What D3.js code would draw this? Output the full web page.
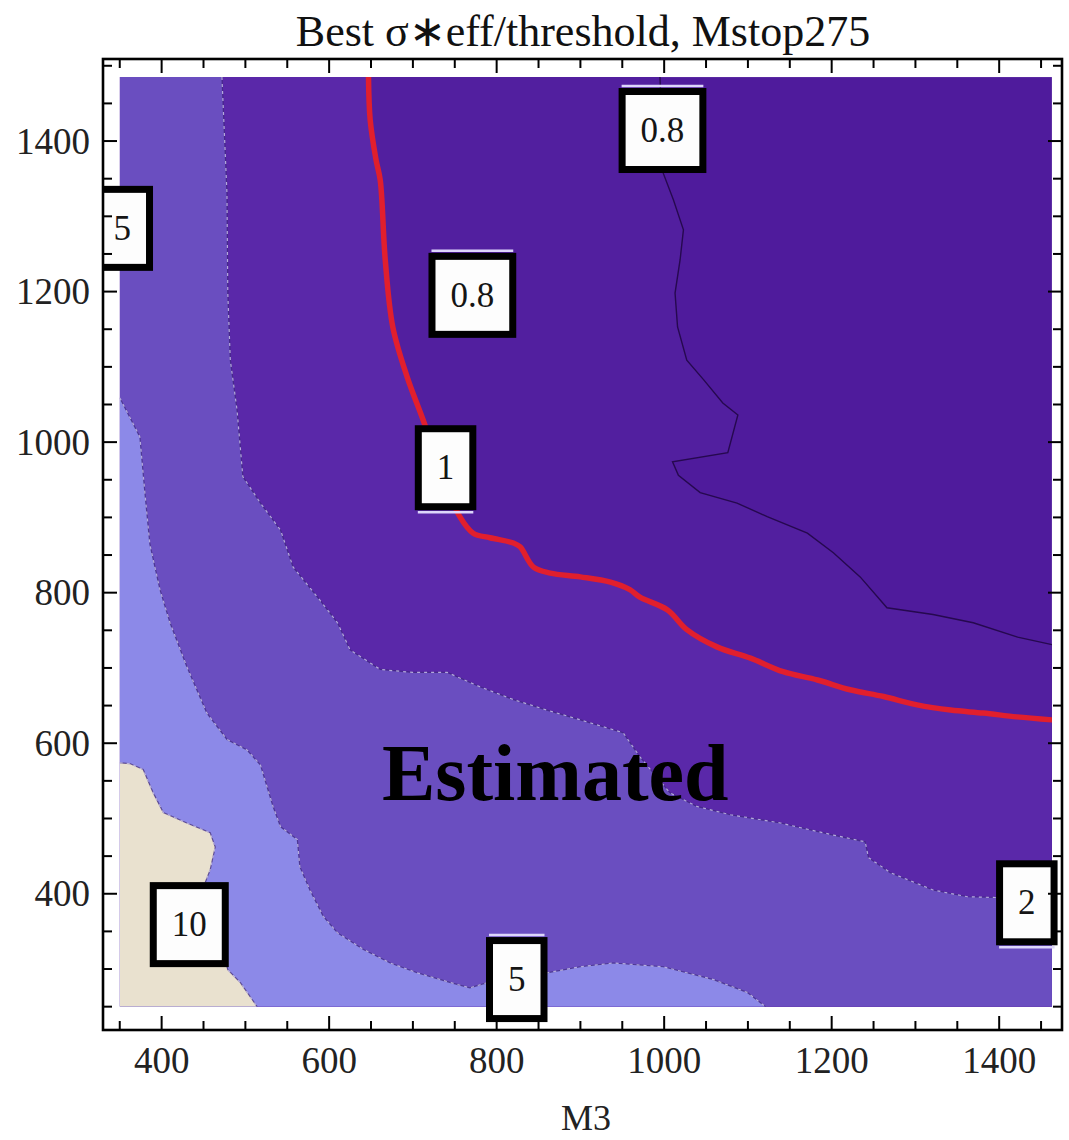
<!DOCTYPE html>
<html>
<head>
<meta charset="utf-8">
<script src="https://cdn.jsdelivr.net/npm/d3@7"></script>
<style>
  html, body { margin: 0; padding: 0; background: #fff; }
  svg { display: block; }
</style>
</head>
<body>
<svg id="chart" width="1069" height="1140"></svg>
<script>
// ---------------- DATA ----------------
const titleText = "Best \u03C3\u2217eff/threshold, Mstop275";
const xLabel = "M3";
const xTickValues = [400, 600, 800, 1000, 1200, 1400];
const yTickValues = [400, 600, 800, 1000, 1200, 1400];
const xDataRange = [350, 1463];
const yDataRange = [250, 1485];
const xFrameRange = [330, 1475];
const yFrameRange = [219, 1509];

const contourLevels = [0.8, 1, 2, 5, 10];
// contour lines, [M3, y] points, each running from one edge of the data region to another
const contour08 = [[995,1485],[999,1357],[1011,1322],[1023,1282],[1019,1242],[1013,1198],[1016,1153],[1027,1109],[1047,1083],[1070,1052],[1088,1036],[1076,986],[1010,974],[1017,956],[1043,933],[1087,919],[1123,901],[1171,879],[1202,853],[1234,821],[1266,780],[1321,771],[1369,760],[1422,741],[1463,731]];
const contour1 = [[647,1485],[649,1428],[656,1375],[661,1348],[667,1242],[676,1153],[693,1087],[712,1030],[727,983],[742,937],[756,901],[772,879],[792,873],[820,866],[828,861],[844,834],[864,826],[900,821],[936,814],[959,804],[971,794],[1004,777],[1027,751],[1063,728],[1103,713],[1142,695],[1183,684],[1222,671],[1262,662],[1302,651],[1342,644],[1381,640],[1421,635],[1463,631]];
const contour2 = [[472,1485],[478,1331],[479,1198],[482,1109],[490,1043],[497,954],[518,919],[542,883],[557,834],[589,790],[610,760],[625,724],[661,698],[700,694],[741,694],[780,675],[820,658],[860,644],[900,631],[951,614],[971,582],[1007,534],[1039,516],[1079,505],[1139,494],[1162,488],[1202,478],[1240,469],[1244,448],[1270,428],[1321,405],[1362,396],[1398,395],[1463,392]];
const contour5 = [[350,1059],[374,1007],[380,933],[386,864],[398,804],[410,760],[430,702],[454,640],[478,605],[502,591],[518,571],[533,516],[542,489],[562,472],[565,436],[577,405],[593,370],[610,348],[641,326],[673,308],[705,295],[745,282],[768,275],[792,283],[828,291],[860,295],[900,303],[939,308],[999,303],[1059,286],[1099,269],[1121,250]];
const contour10 = [[350,574],[362,573],[378,565],[390,534],[402,508],[430,494],[458,481],[464,462],[458,432],[452,415],[464,359],[479,299],[494,282],[514,250]];

const contourLabelTexts = ["0.8", "0.8", "1", "5", "10", "5", "2"];
const contourLabelX = [998, 771, 739, 353, 433, 824, 1433];
const contourLabelY = [1414, 1195, 966, 1284, 359, 286, 388];
const contourLabelGlint = ["top", "top", "bottom", "none", "none", "top", "bottom"];

const annotationText = "Estimated";
const annotationX = 870;
const annotationY = 525;

// ---------------- STYLE ----------------
const bandColors = ["#4f1b9c", "#521f9f", "#5a28a9", "#6a4ec0", "#8c89e8", "#e9e1cf"];
const serif = "'Liberation Serif', 'Times New Roman', Times, serif";

const svg = d3.select("#chart");
const frame = { left: 103, right: 1062, top: 59, bottom: 1030 };

const x = d3.scaleLinear().domain(xFrameRange).range([frame.left, frame.right]);
const y = d3.scaleLinear().domain(yFrameRange).range([frame.bottom, frame.top]);

const x0 = xDataRange[0], x1 = xDataRange[1], y0 = yDataRange[0], y1 = yDataRange[1];

// clip to data region
const defs = svg.append("defs");
defs.append("clipPath").attr("id", "dataClip")
  .append("rect")
  .attr("x", x(x0)).attr("y", y(y1))
  .attr("width", x(x1) - x(x0)).attr("height", y(y0) - y(y1));
defs.append("clipPath").attr("id", "frameClip")
  .append("rect")
  .attr("x", frame.left).attr("y", frame.top)
  .attr("width", frame.right - frame.left).attr("height", frame.bottom - frame.top);

const plot = svg.append("g").attr("clip-path", "url(#dataClip)");

// base band (< lowest level)
plot.append("rect")
  .attr("x", x(x0)).attr("y", y(y1))
  .attr("width", x(x1) - x(x0)).attr("height", y(y0) - y(y1))
  .attr("fill", bandColors[0]);

// close each contour into the region lying to its lower-left (higher values)
function regionPolygon(pts) {
  const poly = pts.slice();
  const first = pts[0], last = pts[pts.length - 1];
  if (last[0] >= x1) { poly.push([x1, y0]); poly.push([x0, y0]); }
  else if (last[1] <= y0) { poly.push([x0, y0]); }
  if (first[1] >= y1) { poly.push([x0, y1]); }
  return poly;
}

const contours = [contour08, contour1, contour2, contour5, contour10];
const polyLine = d3.line().x(d => x(d[0])).y(d => y(d[1]));

contours.forEach((c, i) => {
  plot.append("path")
    .attr("d", polyLine(regionPolygon(c)) + "Z")
    .attr("fill", bandColors[i + 1]);
});

// contour lines
[contour2, contour5, contour10].forEach(c => {
  plot.append("path").attr("d", polyLine(c))
    .attr("fill", "none").attr("stroke", "#3a2478").attr("stroke-width", 1.2).attr("stroke-opacity", 0.7);
  plot.append("path").attr("d", polyLine(c))
    .attr("fill", "none").attr("stroke", "#d8d4f4").attr("stroke-width", 1.2)
    .attr("stroke-dasharray", "3,4").attr("stroke-opacity", 0.75);
});
plot.append("path").attr("d", polyLine(contour08))
  .attr("fill", "none").attr("stroke", "#26094f").attr("stroke-width", 1.4);

const smooth = d3.line().x(d => x(d[0])).y(d => y(d[1])).curve(d3.curveCatmullRom.alpha(0.5));
plot.append("path").attr("d", smooth(contour1))
  .attr("fill", "none").attr("stroke", "#e11f2d").attr("stroke-width", 5.5)
  .attr("stroke-linejoin", "round").attr("stroke-linecap", "round");

// annotation
svg.append("text")
  .attr("x", x(annotationX)).attr("y", y(annotationY))
  .attr("text-anchor", "middle")
  .attr("font-family", serif).attr("font-weight", "bold").attr("font-size", 80)
  .attr("fill", "#000")
  .text(annotationText);

// contour labels
const labelG = svg.append("g").attr("clip-path", "url(#frameClip)");
contourLabelTexts.forEach((t, i) => {
  const cx = x(contourLabelX[i]), cy = y(contourLabelY[i]);
  const g = labelG.append("g");
  const txt = g.append("text")
    .attr("x", cx).attr("y", cy)
    .attr("text-anchor", "middle").attr("dominant-baseline", "central")
    .attr("font-family", serif).attr("font-size", 35).attr("fill", "#151515")
    .text(t);
  const tw = txt.node().getComputedTextLength();
  const w = tw + 44, h = 85, sw = 7;
  g.insert("rect", "text")
    .attr("x", cx - w / 2 + sw / 2).attr("y", cy - h / 2 + sw / 2)
    .attr("width", w - sw).attr("height", h - sw)
    .attr("fill", "#fdfdfd").attr("stroke", "#000").attr("stroke-width", sw);
  if (contourLabelGlint[i] !== "none") {
    const gy = contourLabelGlint[i] === "top" ? cy - h / 2 - 2 : cy + h / 2 + 2;
    g.append("line")
      .attr("x1", cx - w / 2 + 3).attr("x2", cx + w / 2 - 3)
      .attr("y1", gy).attr("y2", gy)
      .attr("stroke", "#ddd6fb").attr("stroke-width", 2.5);
  }
});

// frame
svg.append("rect")
  .attr("x", frame.left).attr("y", frame.top)
  .attr("width", frame.right - frame.left).attr("height", frame.bottom - frame.top)
  .attr("fill", "none").attr("stroke", "#000").attr("stroke-width", 2.6);

// ticks (inward, all four sides)
const xMinor = d3.range(350, 1451, 50);
const yMinor = d3.range(250, 1501, 50);
const tickG = svg.append("g").attr("stroke", "#000").attr("stroke-width", 2);
const isMajor = v => xTickValues.includes(v);
xMinor.forEach(v => {
  const len = isMajor(v) ? 14 : 9;
  tickG.append("line").attr("x1", x(v)).attr("x2", x(v)).attr("y1", frame.bottom).attr("y2", frame.bottom - len);
  tickG.append("line").attr("x1", x(v)).attr("x2", x(v)).attr("y1", frame.top).attr("y2", frame.top + len);
});
yMinor.forEach(v => {
  const len = yTickValues.includes(v) ? 14 : 9;
  tickG.append("line").attr("y1", y(v)).attr("y2", y(v)).attr("x1", frame.left).attr("x2", frame.left + len);
  tickG.append("line").attr("y1", y(v)).attr("y2", y(v)).attr("x1", frame.right).attr("x2", frame.right - len);
});

// tick labels
svg.append("g").selectAll("text").data(xTickValues).join("text")
  .attr("x", d => x(d)).attr("y", 1073)
  .attr("text-anchor", "middle")
  .attr("font-family", serif).attr("font-size", 37).attr("fill", "#222")
  .text(d => d);
svg.append("g").selectAll("text").data(yTickValues).join("text")
  .attr("x", 90).attr("y", d => y(d))
  .attr("text-anchor", "end").attr("dominant-baseline", "central")
  .attr("font-family", serif).attr("font-size", 37).attr("fill", "#222")
  .text(d => d);

// title and axis label
svg.append("text")
  .attr("x", 583).attr("y", 46)
  .attr("text-anchor", "middle")
  .attr("font-family", serif).attr("font-size", 44).attr("fill", "#111")
  .text(titleText);
svg.append("text")
  .attr("x", 586).attr("y", 1130)
  .attr("text-anchor", "middle")
  .attr("font-family", serif).attr("font-size", 36).attr("fill", "#222")
  .text(xLabel);
</script>
</body>
</html>
